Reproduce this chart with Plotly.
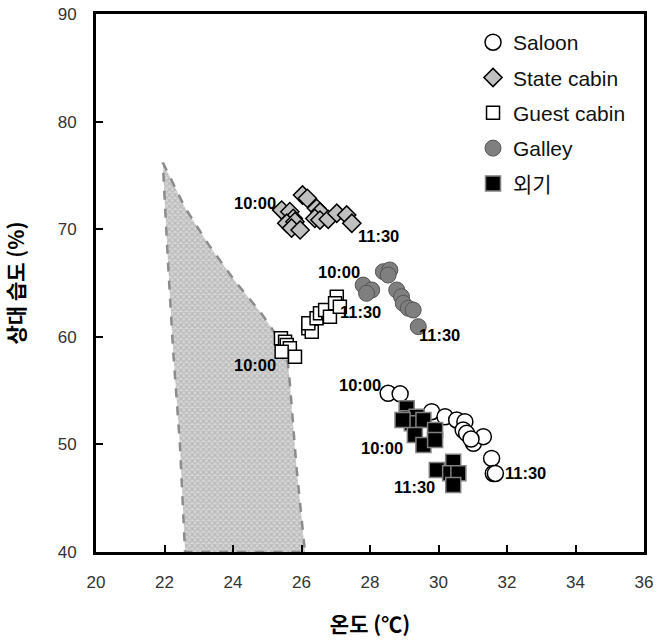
import plotly.graph_objects as go

# ---- data ----
saloon_t = [28.53, 28.88, 29.80, 30.19, 30.53, 30.77, 30.72, 30.82, 31.02, 31.31, 30.95, 31.55, 31.60, 31.66]
saloon_rh = [54.75, 54.70, 53.04, 52.57, 52.27, 52.11, 51.34, 51.03, 50.10, 50.72, 50.50, 48.70, 47.30, 47.30]

state_t = [26.03, 26.17, 25.42, 25.66, 25.76, 25.57, 25.81, 25.71, 25.96, 26.44, 26.54, 26.39, 26.54, 26.78, 27.03, 27.32, 27.47]
state_rh = [73.18, 72.87, 71.78, 71.63, 71.00, 70.55, 70.70, 70.10, 69.93, 71.94, 71.60, 71.00, 70.85, 70.92, 71.48, 71.32, 70.55]

guest_t = [25.40, 25.52, 25.57, 25.66, 25.81, 25.42, 26.20, 26.30, 26.20, 26.44, 26.54, 26.78, 26.69, 26.83, 27.03, 26.98, 27.12]
guest_rh = [59.86, 59.55, 59.24, 58.93, 58.15, 58.62, 60.79, 60.47, 61.25, 61.72, 62.18, 62.33, 62.49, 61.87, 63.73, 63.11, 62.80]

galley_t = [27.80, 28.05, 27.90, 28.39, 28.58, 28.53, 28.78, 28.92, 28.97, 29.12, 29.26, 29.41]
galley_rh = [64.81, 64.35, 64.04, 66.05, 66.21, 65.74, 64.35, 63.73, 63.11, 62.65, 62.49, 60.94]

outdoor_t = [29.07, 29.12, 29.36, 29.22, 29.56, 29.31, 29.56, 29.90, 29.90, 28.95, 29.95, 30.43, 30.34, 30.58, 30.43]
outdoor_rh = [53.35, 52.42, 52.57, 51.96, 52.27, 50.87, 49.94, 51.34, 50.41, 52.27, 47.62, 48.39, 47.31, 47.31, 46.23]

comfort_t = [21.95, 22.6, 23.3, 24.1, 24.8, 25.17, 25.45, 25.6, 25.66, 25.85, 26.1, 22.6, 22.45, 22.25, 22.1, 21.95]
comfort_rh = [76.2, 72.0, 68.5, 65.0, 62.3, 60.6, 59.0, 57.6, 55.7, 48.0, 40.0, 40.0, 50.0, 58.8, 67.0, 76.2]

label_text = ["10:00", "11:30", "10:00", "11:30", "10:00", "11:30", "10:00", "11:30", "10:00", "11:30"]
label_t = [25.31, 27.60, 25.31, 27.07, 27.77, 29.37, 28.38, 31.88, 29.02, 29.96]
label_rh = [72.43, 69.37, 57.38, 62.33, 66.05, 60.17, 55.52, 47.34, 49.67, 46.04]
label_side = ["right", "left", "right", "left", "right", "left", "right", "left", "right", "right"]

x_ticks = [20, 22, 24, 26, 28, 30, 32, 34, 36]
y_ticks = [40, 50, 60, 70, 80, 90]

FONT = "Liberation Sans, Arial, Noto Sans CJK KR"
KFONT = "Noto Sans CJK KR, Liberation Sans"

fig = go.Figure()

fig.add_trace(go.Scatter(
    x=comfort_t, y=comfort_rh, mode="lines", fill="toself",
    fillcolor="white",
    fillpattern=dict(shape="x", size=4, solidity=0.5, fgcolor="#9a9a9a", bgcolor="#d6d6d6"),
    line=dict(color="#8c8c8c", width=2.5, dash="dash"),
    showlegend=False, hoverinfo="skip"))

fig.add_trace(go.Scatter(
    x=saloon_t, y=saloon_rh, mode="markers", name="Saloon", legendgroup="a",
    marker=dict(symbol="circle", size=16, color="white", line=dict(color="black", width=1.5))))
fig.add_trace(go.Scatter(
    x=state_t, y=state_rh, mode="markers", name="State cabin", legendgroup="b",
    marker=dict(symbol="diamond", size=14, color="#c0c0c0", line=dict(color="black", width=1.5))))
fig.add_trace(go.Scatter(
    x=guest_t, y=guest_rh, mode="markers", name="Guest cabin", legendgroup="c",
    marker=dict(symbol="square", size=13, color="white", line=dict(color="black", width=1.5))))
fig.add_trace(go.Scatter(
    x=galley_t, y=galley_rh, mode="markers", name="Galley", legendgroup="d",
    marker=dict(symbol="circle", size=16, color="#7f7f7f", line=dict(color="#555555", width=1))))
fig.add_trace(go.Scatter(
    x=outdoor_t, y=outdoor_rh, mode="markers", name="외기", legendgroup="e",
    marker=dict(symbol="square", size=15, color="black", line=dict(color="#808080", width=1.5))))

for txt, xt, yt, side in zip(label_text, label_t, label_rh, label_side):
    fig.add_annotation(x=xt, y=yt, text=txt, showarrow=False, xanchor=side, yanchor="middle",
                       font=dict(family=FONT, size=16.5, color="black", weight="bold"))

fig.update_layout(
    width=660, height=644,
    margin=dict(l=96, r=16, t=14, b=92),
    paper_bgcolor="white", plot_bgcolor="white",
    font=dict(family=FONT, color="#222222"),
    showlegend=True,
    legend=dict(x=0.688, y=0.985, xanchor="left", yanchor="top", bgcolor="rgba(0,0,0,0)",
                font=dict(family=FONT, size=21, color="#111111"), tracegroupgap=5,
                itemwidth=30),
)
fig.update_xaxes(range=[20, 36], tickvals=x_ticks, showgrid=False, zeroline=False, automargin=False,
                 showline=True, linecolor="black", linewidth=3, mirror=True,
                 ticks="inside", ticklen=7, tickwidth=2, tickcolor="black", ticklabeloverflow="allow",
                 tickfont=dict(family=FONT, size=17, color="#333333"), ticklabelstandoff=13,
                 title=dict(text="<b>온도 (℃)</b>", font=dict(family=KFONT, size=21, color="black"), standoff=26))
fig.update_yaxes(range=[40, 90], tickvals=y_ticks, showgrid=False, zeroline=False, automargin=False,
                 showline=True, linecolor="black", linewidth=3, mirror=True,
                 ticks="inside", ticklen=7, tickwidth=2, tickcolor="black", ticklabeloverflow="allow",
                 tickfont=dict(family=FONT, size=17, color="#333333"), ticklabelstandoff=13,
                 title=dict(text="<b>상대 습도 (%)</b>", font=dict(family=KFONT, size=21, color="black"), standoff=28))

fig.write_html("out.html", config={"displayModeBar": False},
               post_script="document.body.style.margin='0';")
